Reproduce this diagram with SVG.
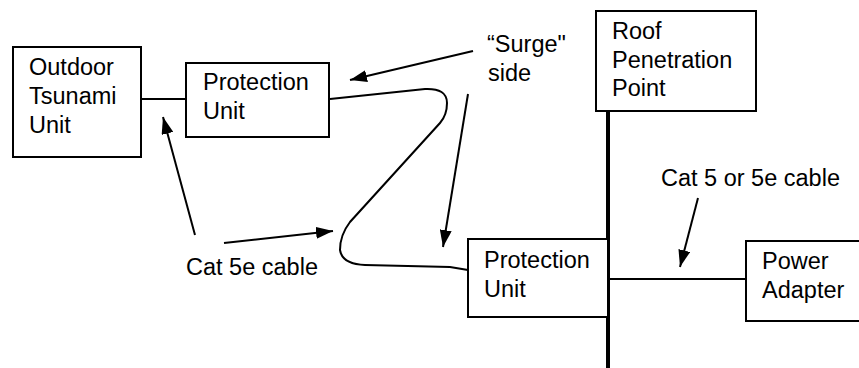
<svg xmlns="http://www.w3.org/2000/svg" width="859" height="368" viewBox="0 0 859 368">
<style>
.box{fill:#fff;stroke:#000;stroke-width:2}
.lbl{font-family:"Liberation Sans",Arial,sans-serif;font-size:23.5px;fill:#000}
.ln{fill:none;stroke:#000;stroke-width:2}
.arr{fill:none;stroke:#000;stroke-width:2;marker-end:url(#ah)}
</style>
<defs>
<marker id="ah" markerUnits="userSpaceOnUse" markerWidth="18" markerHeight="12" refX="17" refY="6" orient="auto">
<path d="M0,0 L17,6 L0,12 Z" fill="#000"/>
</marker>
</defs>
<rect width="859" height="368" fill="#fff"/>
<g id="connectors">
<line class="ln" x1="141" y1="99" x2="186" y2="99"/>
<path class="ln" d="M330,99 L425,89 Q447,88 447,103 Q447,115 440,123 L350,222 Q340,235 340,250 Q342,264 365,265 L450,267 L468,270"/>
<line x1="608" y1="111" x2="608" y2="368" stroke="#000" stroke-width="4"/>
<line class="ln" x1="610" y1="279" x2="746" y2="279"/>
<line class="arr" x1="473" y1="51" x2="350" y2="80"/>
<line class="arr" x1="468" y1="94" x2="443" y2="247"/>
<line class="arr" x1="195" y1="235" x2="163" y2="117"/>
<line class="arr" x1="224" y1="243" x2="333" y2="231"/>
<line class="arr" x1="698" y1="198" x2="680" y2="267"/>
</g>
<g id="outdoor">
<rect class="box" x="13" y="47" width="128" height="110"/>
<text class="lbl" x="29" y="75">Outdoor</text>
<text class="lbl" x="29" y="104">Tsunami</text>
<text class="lbl" x="29" y="133">Unit</text>
</g>
<g id="protection1">
<rect class="box" x="186" y="63" width="143" height="74"/>
<text class="lbl" x="203" y="90">Protection</text>
<text class="lbl" x="203" y="119">Unit</text>
</g>
<g id="roof">
<rect class="box" x="596" y="11" width="160" height="100"/>
<text class="lbl" x="612" y="39">Roof</text>
<text class="lbl" x="612" y="68">Penetration</text>
<text class="lbl" x="612" y="96">Point</text>
</g>
<g id="protection2">
<rect class="box" x="468" y="239" width="140" height="78"/>
<text class="lbl" x="484" y="268">Protection</text>
<text class="lbl" x="484" y="297">Unit</text>
</g>
<g id="power">
<rect class="box" x="746" y="241" width="120" height="80"/>
<text class="lbl" x="762" y="269">Power</text>
<text class="lbl" x="762" y="298">Adapter</text>
</g>
<g id="labels">
<text class="lbl" x="487" y="52">“Surge"</text>
<text class="lbl" x="488" y="81">side</text>
<text class="lbl" x="186" y="275">Cat 5e cable</text>
<text class="lbl" x="661" y="186">Cat 5 or 5e cable</text>
</g>
</svg>
